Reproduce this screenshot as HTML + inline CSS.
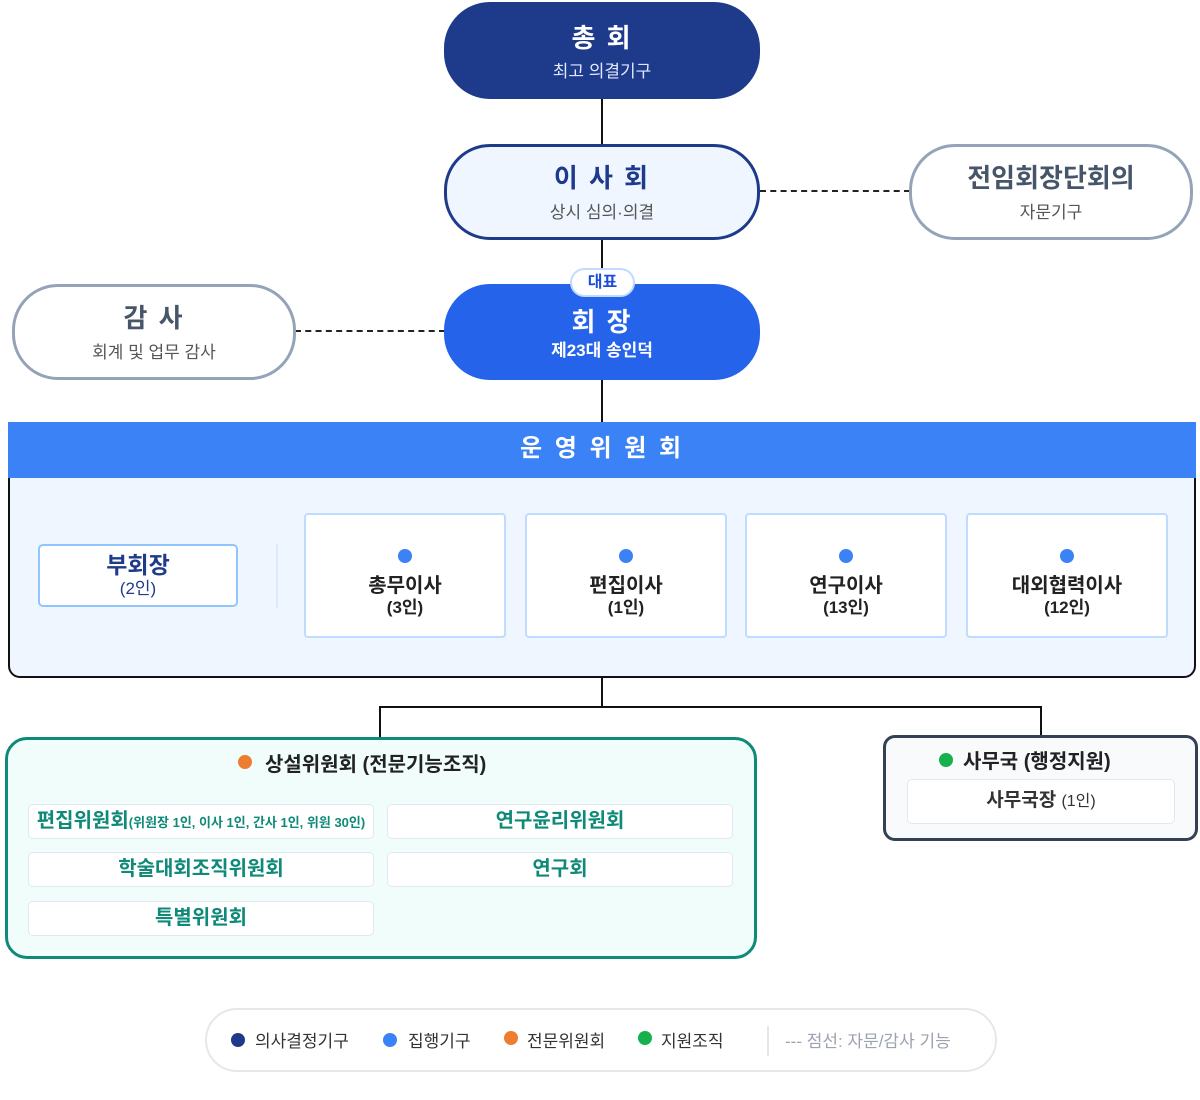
<!DOCTYPE html>
<html><head><meta charset="utf-8"><style>
*{margin:0;padding:0;box-sizing:border-box}
body{width:1200px;height:1100px;background:#fff;position:relative;overflow:hidden;font-family:"Liberation Sans","Noto Sans CJK KR",sans-serif}
.a{position:absolute}
.c{position:absolute;left:0;right:0;text-align:center;white-space:nowrap}
.line{position:absolute;background:#111}
.dash{position:absolute;height:0;border-top:2px dashed #222}
.dot{position:absolute;width:14px;height:14px;border-radius:50%}
.card{position:absolute;background:#fff;border:2px solid #bfdbfe;border-radius:4px}
.it{position:absolute;background:#fff;border:1.5px solid #e2e8f0;border-radius:5px;color:#0f8a78;font-weight:bold;font-size:20px;text-align:center;line-height:32px;white-space:nowrap}
</style></head><body>
<div class="line" style="left:601px;top:99px;width:2px;height:46px"></div>
<div class="line" style="left:601px;top:239px;width:2px;height:45px"></div>
<div class="line" style="left:601px;top:380px;width:2px;height:42px"></div>
<div class="line" style="left:601px;top:677px;width:2px;height:30px"></div>
<div class="line" style="left:379px;top:706px;width:663px;height:2px"></div>
<div class="line" style="left:379px;top:706px;width:2px;height:32px"></div>
<div class="line" style="left:1040px;top:706px;width:2px;height:30px"></div>
<div class="dash" style="left:760px;top:190px;width:150px"></div>
<div class="dash" style="left:295px;top:330px;width:150px"></div>

<div class="a" style="left:444px;top:2px;width:316px;height:97px;background:#1e3a8a;border-radius:46px;color:#fff">
<div class="c" style="top:16px;font-size:26px;font-weight:bold;letter-spacing:2px">총 회</div>
<div class="c" style="top:55px;font-size:17px;color:#e0e7ff">최고 의결기구</div></div>
<div class="a" style="left:444px;top:144px;width:316px;height:96px;background:#eff6ff;border:3px solid #1e3a8a;border-radius:46px">
<div class="c" style="top:11px;font-size:26px;font-weight:bold;color:#1e3a8a;letter-spacing:2px">이 사 회</div>
<div class="c" style="top:51px;font-size:17px;color:#555">상시 심의·의결</div></div>
<div class="a" style="left:909px;top:144px;width:284px;height:96px;background:#fff;border:3px solid #94a3b8;border-radius:46px">
<div class="c" style="top:11px;font-size:26px;font-weight:bold;color:#475569">전임회장단회의</div>
<div class="c" style="top:51px;font-size:17px;color:#555">자문기구</div></div>
<div class="a" style="left:12px;top:284px;width:284px;height:96px;background:#fff;border:3px solid #94a3b8;border-radius:46px">
<div class="c" style="top:11px;font-size:26px;font-weight:bold;color:#475569;letter-spacing:2px">감 사</div>
<div class="c" style="top:51px;font-size:17px;color:#555">회계 및 업무 감사</div></div>
<div class="a" style="left:444px;top:284px;width:316px;height:96px;background:#2563eb;border-radius:46px;color:#fff">
<div class="c" style="top:18px;font-size:26px;font-weight:bold;letter-spacing:2px">회 장</div>
<div class="c" style="top:52px;font-size:17px;font-weight:bold">제23대 송인덕</div></div>
<div class="a" style="left:570px;top:268px;width:65px;height:29px;background:#fff;border:2px solid #bfdbfe;border-radius:15px;color:#1d4ed8;font-size:16px;font-weight:bold;text-align:center;line-height:25px">대표</div>

<div class="a" style="left:8px;top:422px;width:1188px;height:56px;background:#3b82f6;color:#fff;font-size:24px;font-weight:bold;text-align:center;line-height:54px;letter-spacing:3px">운 영 위 원 회</div>
<div class="a" style="left:8px;top:478px;width:1188px;height:200px;background:#eff6ff;border:2px solid #111;border-top:none;border-radius:0 0 12px 12px"></div>
<div class="a" style="left:38px;top:544px;width:200px;height:63px;background:#fff;border:2px solid #93c5fd;border-radius:5px;text-align:center;color:#1e3a8a;font-weight:bold">
<div style="font-size:23px;margin-top:5px;line-height:28px">부회장</div><div style="font-size:17px;line-height:20px;font-weight:normal;color:#1e3a8a">(2인)</div></div>
<div class="a" style="left:276px;top:544px;width:2px;height:64px;background:#dbeafe"></div>

<div class="card" style="left:304px;top:513px;width:202px;height:125px"><div class="dot" style="left:92px;top:34px;background:#3b82f6"></div><div class="c" style="top:54px;font-size:20px;font-weight:bold;color:#222">총무이사</div><div class="c" style="top:78px;font-size:17px;font-weight:bold;color:#222">(3인)</div></div>
<div class="card" style="left:525px;top:513px;width:202px;height:125px"><div class="dot" style="left:92px;top:34px;background:#3b82f6"></div><div class="c" style="top:54px;font-size:20px;font-weight:bold;color:#222">편집이사</div><div class="c" style="top:78px;font-size:17px;font-weight:bold;color:#222">(1인)</div></div>
<div class="card" style="left:745px;top:513px;width:202px;height:125px"><div class="dot" style="left:92px;top:34px;background:#3b82f6"></div><div class="c" style="top:54px;font-size:20px;font-weight:bold;color:#222">연구이사</div><div class="c" style="top:78px;font-size:17px;font-weight:bold;color:#222">(13인)</div></div>
<div class="card" style="left:966px;top:513px;width:202px;height:125px"><div class="dot" style="left:92px;top:34px;background:#3b82f6"></div><div class="c" style="top:54px;font-size:20px;font-weight:bold;color:#222">대외협력이사</div><div class="c" style="top:78px;font-size:17px;font-weight:bold;color:#222">(12인)</div></div>

<div class="a" style="left:5px;top:737px;width:752px;height:222px;background:#f0fdfa;border:3px solid #0d8a78;border-radius:22px"></div>
<div class="dot" style="left:238px;top:755px;background:#ed7d31"></div>
<div class="a" style="left:265px;top:748px;font-size:20px;font-weight:bold;color:#222">상설위원회 (전문기능조직)</div>
<div class="it" style="left:28px;top:804px;width:346px;height:35px">편집위원회<span style="font-size:13px">(위원장 1인, 이사 1인, 간사 1인, 위원 30인)</span></div>
<div class="it" style="left:387px;top:804px;width:346px;height:35px">연구윤리위원회</div>
<div class="it" style="left:28px;top:852px;width:346px;height:35px">학술대회조직위원회</div>
<div class="it" style="left:387px;top:852px;width:346px;height:35px">연구회</div>
<div class="it" style="left:28px;top:901px;width:346px;height:35px">특별위원회</div>

<div class="a" style="left:883px;top:735px;width:315px;height:106px;background:#f8fafc;border:3px solid #334155;border-radius:12px"></div>
<div class="dot" style="left:939px;top:753px;background:#16b04c"></div>
<div class="a" style="left:963px;top:745px;font-size:20px;font-weight:bold;color:#222">사무국 (행정지원)</div>
<div class="a" style="left:907px;top:779px;width:268px;height:45px;background:#fff;border:1.5px solid #e2e8f0;border-radius:5px;text-align:center;line-height:42px;font-size:19px;font-weight:bold;color:#333">사무국장 <span style="font-size:16px;font-weight:normal">(1인)</span></div>

<div class="a" style="left:205px;top:1008px;width:792px;height:64px;background:#fff;border:2px solid #e5e7eb;border-radius:32px;font-size:17px;color:#333">
<div class="dot" style="left:24px;top:23px;background:#1e3a8a"></div><div class="a" style="left:48px;top:17px">의사결정기구</div>
<div class="dot" style="left:176px;top:23px;background:#3b82f6"></div><div class="a" style="left:201px;top:17px">집행기구</div>
<div class="dot" style="left:297px;top:21px;background:#ed7d31"></div><div class="a" style="left:320px;top:17px">전문위원회</div>
<div class="dot" style="left:431px;top:21px;background:#16b04c"></div><div class="a" style="left:454px;top:17px">지원조직</div>
<div class="a" style="left:560px;top:16px;width:2px;height:30px;background:#e5e7eb"></div>
<div class="a" style="left:578px;top:17px;color:#9ca3af">--- 점선: 자문/감사 기능</div>
</div>
</body></html>
